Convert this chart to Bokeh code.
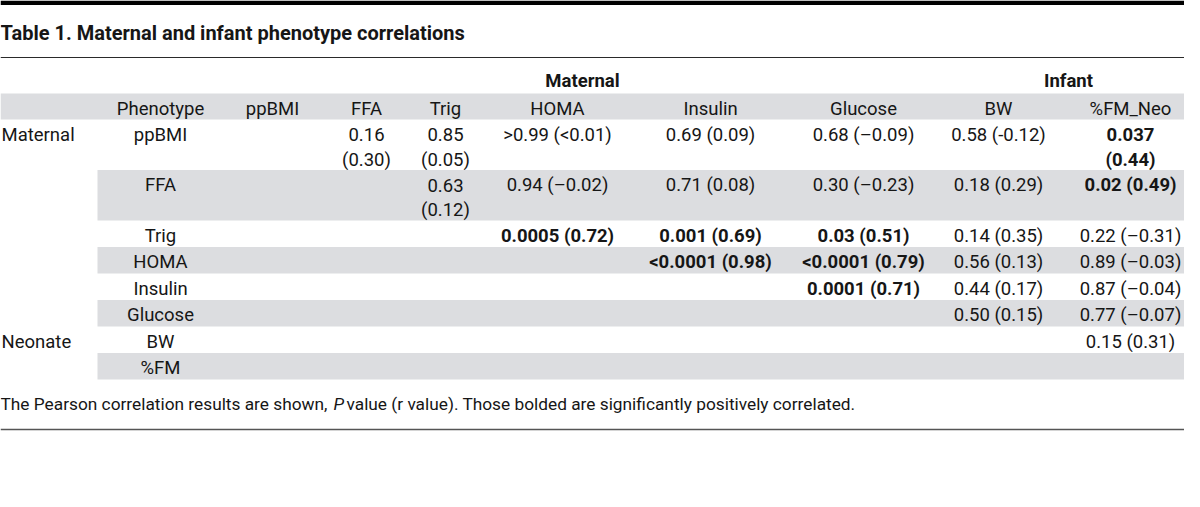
from bokeh.plotting import figure
from bokeh.models import Range1d
from bokeh.core.properties import value
from bokeh.embed import file_html
from bokeh.resources import INLINE

# ---------------- data ----------------
title_text = "Table 1. Maternal and infant phenotype correlations"
group_headers = ["Maternal", "Infant"]
column_labels = ["Phenotype", "ppBMI", "FFA", "Trig", "HOMA", "Insulin", "Glucose", "BW", "%FM_Neo"]
row_labels = ["ppBMI", "FFA", "Trig", "HOMA", "Insulin", "Glucose", "BW", "%FM"]
row_groups = ["Maternal", "", "", "", "", "", "Neonate", ""]
# P values per row for the columns ppBMI .. %FM_Neo (None = empty cell)
p_values = [
    [None, "0.16", "0.85", ">0.99", "0.69", "0.68", "0.58", "0.037"],
    [None, None, "0.63", "0.94", "0.71", "0.30", "0.18", "0.02"],
    [None, None, None, "0.0005", "0.001", "0.03", "0.14", "0.22"],
    [None, None, None, None, "<0.0001", "<0.0001", "0.56", "0.89"],
    [None, None, None, None, None, "0.0001", "0.44", "0.87"],
    [None, None, None, None, None, None, "0.50", "0.77"],
    [None, None, None, None, None, None, None, "0.15"],
    [None, None, None, None, None, None, None, None],
]
# r values per row, same layout
r_values = [
    [None, "0.30", "0.05", "<0.01", "0.09", "\u20130.09", "-0.12", "0.44"],
    [None, None, "0.12", "\u20130.02", "0.08", "\u20130.23", "0.29", "0.49"],
    [None, None, None, "0.72", "0.69", "0.51", "0.35", "\u20130.31"],
    [None, None, None, None, "0.98", "0.79", "0.13", "\u20130.03"],
    [None, None, None, None, None, "0.71", "0.17", "\u20130.04"],
    [None, None, None, None, None, None, "0.15", "\u20130.07"],
    [None, None, None, None, None, None, None, "0.31"],
    [None, None, None, None, None, None, None, None],
]
footnote_parts = ["The Pearson correlation results are shown, ", "P",
                  " value (r value). Those bolded are significantly positively correlated."]

# ---------------- layout ----------------
W, H = 1184, 491
FONT = "Roboto"
TXT = "#161616"
GRAY = "#dcdde0"
BODY = 18.5

col_edges = [97, 223, 321, 411, 479, 635, 785, 941, 1055, 1205]
col_centers = [(a + b) / 2 for a, b in zip(col_edges[:-1], col_edges[1:])]
wrap_limit = [999, 999, 60, 60, 999, 999, 999, 999, 92]  # per column (incl. Phenotype)

def num(s):
    return float(s.lstrip("<>").replace("\u2013", "-"))

def est_w(s, bold):
    return len(s) * (8.0 if bold else 7.3)

p = figure(width=W, height=H, x_range=Range1d(0, W), y_range=Range1d(H, 0),
           output_backend="svg", toolbar_location=None, min_border=0)
p.axis.visible = False
p.grid.visible = False
p.outline_line_color = None
p.background_fill_color = "white"
p.border_fill_color = "white"

def txt(x, y, s, size=BODY, bold=False, align="center", italic=False):
    style = "bold" if bold else ("italic" if italic else "normal")
    p.text(x=[x], y=[y], text=[s], text_font=value(FONT), text_font_size=f"{size}px",
           text_font_style=style, text_align=align, text_baseline="middle", text_color=TXT)

# top rule
p.quad(left=[0], right=[W], top=[0], bottom=[4.5], fill_color="black", line_color=None)
# title
txt(0, 32, title_text, size=20, bold=True, align="left")
p.segment(x0=[0], x1=[W], y0=[57], y1=[57], line_color="#2a2a2a", line_width=1)

# group headers
txt((col_edges[1] + col_edges[7]) / 2, 80, group_headers[0], bold=True)
txt((col_edges[7] + col_edges[9]) / 2 - 5, 80, group_headers[1], bold=True)

# column header row
hdr_top, hdr_bot = 93, 119
p.quad(left=[0], right=[W], top=[hdr_top], bottom=[hdr_bot], fill_color=GRAY, line_color=None)
for c, lab in enumerate(column_labels):
    txt(col_centers[c], hdr_top + 15, lab)

# body rows
top = hdr_bot
for r, lab in enumerate(row_labels):
    cells = []
    nl = 1
    for c in range(8):
        pv, rv = p_values[r][c], r_values[r][c]
        if pv is None:
            continue
        bold = num(pv) < 0.05 and num(rv) > 0
        s = f"{pv} ({rv})"
        lines = [s] if est_w(s, bold) <= wrap_limit[c + 1] else [pv, f"({rv})"]
        nl = max(nl, len(lines))
        cells.append((c + 1, lines, bold))
    h = 26.5 + 24 * (nl - 1)
    if r % 2 == 1:
        p.quad(left=[col_edges[0]], right=[W], top=[top], bottom=[top + h],
               fill_color=GRAY, line_color=None)
    if row_groups[r]:
        txt(1, top + 15, row_groups[r], align="left")
    txt(col_centers[0], top + 15, lab)
    for c, lines, bold in cells:
        for i, ln in enumerate(lines):
            txt(col_centers[c], top + 15 + 25 * i, ln, bold=bold)
    top += h

# footnote
fy = top + 24
FN = 17.3
txt(0, fy, footnote_parts[0], size=FN, align="left")
txt(333, fy, footnote_parts[1], size=FN, italic=True, align="left")
txt(346, fy, footnote_parts[2], size=FN, align="left")
p.segment(x0=[0], x1=[W], y0=[fy + 26], y1=[fy + 26], line_color="#555555", line_width=1.5)

open("out.html", "w").write(file_html(p, INLINE))
